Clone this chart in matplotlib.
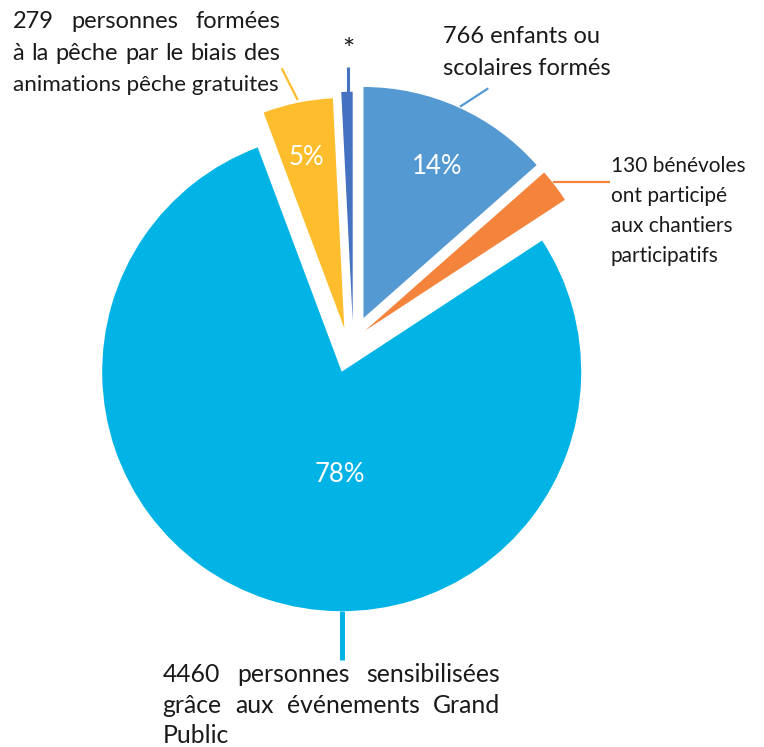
import numpy as np
import matplotlib.pyplot as plt
from matplotlib.patches import Wedge

W, H = 764, 747

# slice data, clockwise from 12 o'clock
values = [766, 130, 4460, 279, 45]
pct_labels = ['14%', '', '78%', '5%', '']
colors = ['#5599D2', '#F4843C', '#02B4E6', '#FEBD2C', '#4472C0']

# drawing of each slice: tip position (px, y down), radius (px)
tips = [(363.5, 318), (365, 330.7), (341.7, 371.7), (344.3, 328), (352.7, 321.7)]
radii = [231, 239, 239.5, 230, 230]
pct_pos = [(436.7, 166.7), None, (340, 474.3), (306.7, 157.3), None]

plt.rcParams['font.family'] = ['Lato', 'DejaVu Sans']
FS = 17
TXT = '#1a1a1a'

fig = plt.figure(figsize=(W / 100, H / 100), dpi=100)
ax = fig.add_axes([0, 0, 1, 1])
ax.set_xlim(0, W)
ax.set_ylim(0, H)
ax.axis('off')

def Y(y):
  return H - y

fracs = np.array(values) / sum(values)
start = 90.0
for i, f in enumerate(fracs):
  t2 = start
  t1 = start - f * 360
  cx, cy = tips[i]
  ax.add_patch(Wedge((cx, Y(cy)), radii[i], t1, t2, facecolor=colors[i], edgecolor='none'))
  start = t1
  if pct_labels[i]:
    px, py = pct_pos[i]
    ax.text(px, Y(py), pct_labels[i], color='white', fontsize=18.5, ha='center', va='center')

# leader lines
def leader(p0, p1, c, lw):
  ax.plot([p0[0], p1[0]], [Y(p0[1]), Y(p1[1])], color=c, lw=lw, solid_capstyle='butt')

leader((281.7, 68.3), (297.7, 100), colors[3], 1.6)
leader((348.3, 66.7), (348.3, 92), colors[4], 2.2)
leader((460, 106.7), (488.3, 88.3), colors[0], 1.6)
leader((553, 181.7), (610, 181.7), colors[1], 1.6)
leader((341.5, 611), (341.5, 660), colors[2], 3.6)

renderer = fig.canvas.get_renderer()

def justified(lines, x0, x1, baselines, last_left=True, fs=FS):
  for k, (line, yb) in enumerate(zip(lines, baselines)):
    words = line.split(' ')
    if (last_left and k == len(lines) - 1) or len(words) == 1:
      ax.text(x0, Y(yb), line, fontsize=fs, color=TXT, va='baseline', ha='left')
      continue
    arts = [ax.text(0, Y(yb), w, fontsize=fs, color=TXT, va='baseline', ha='left') for w in words]
    widths = [a.get_window_extent(renderer).width for a in arts]
    gap = (x1 - x0 - sum(widths)) / (len(words) - 1)
    x = x0
    for a, w in zip(arts, widths):
      a.set_x(x)
      x += w + gap

justified(['279 personnes formées', 'à la pêche par le biais des'], 12.7, 280, [28.5, 59.7],
          last_left=False)
ax.text(12.7, Y(91), 'animations pêche gratuites', fontsize=16.2, color=TXT, va='baseline')
justified(['4460 personnes sensibilisées', 'grâce aux événements Grand', 'Public'],
          162.7, 500, [681.7, 713, 743.3], fs=17.8)

for line, yb in zip(['766 enfants ou', 'scolaires formés'], [43.3, 75]):
  ax.text(442.7, Y(yb), line, fontsize=FS, color=TXT, va='baseline')
for line, yb in zip(['130 bénévoles', 'ont participé', 'aux chantiers', 'participatifs'],
                    [172.5, 202.5, 232.5, 262]):
  ax.text(610.7, Y(yb), line, fontsize=15, color=TXT, va='baseline')
ax.text(348.3, Y(51.5), '*', fontsize=21, color=TXT, ha='center', va='center')

fig.savefig('out.png', dpi=100)
